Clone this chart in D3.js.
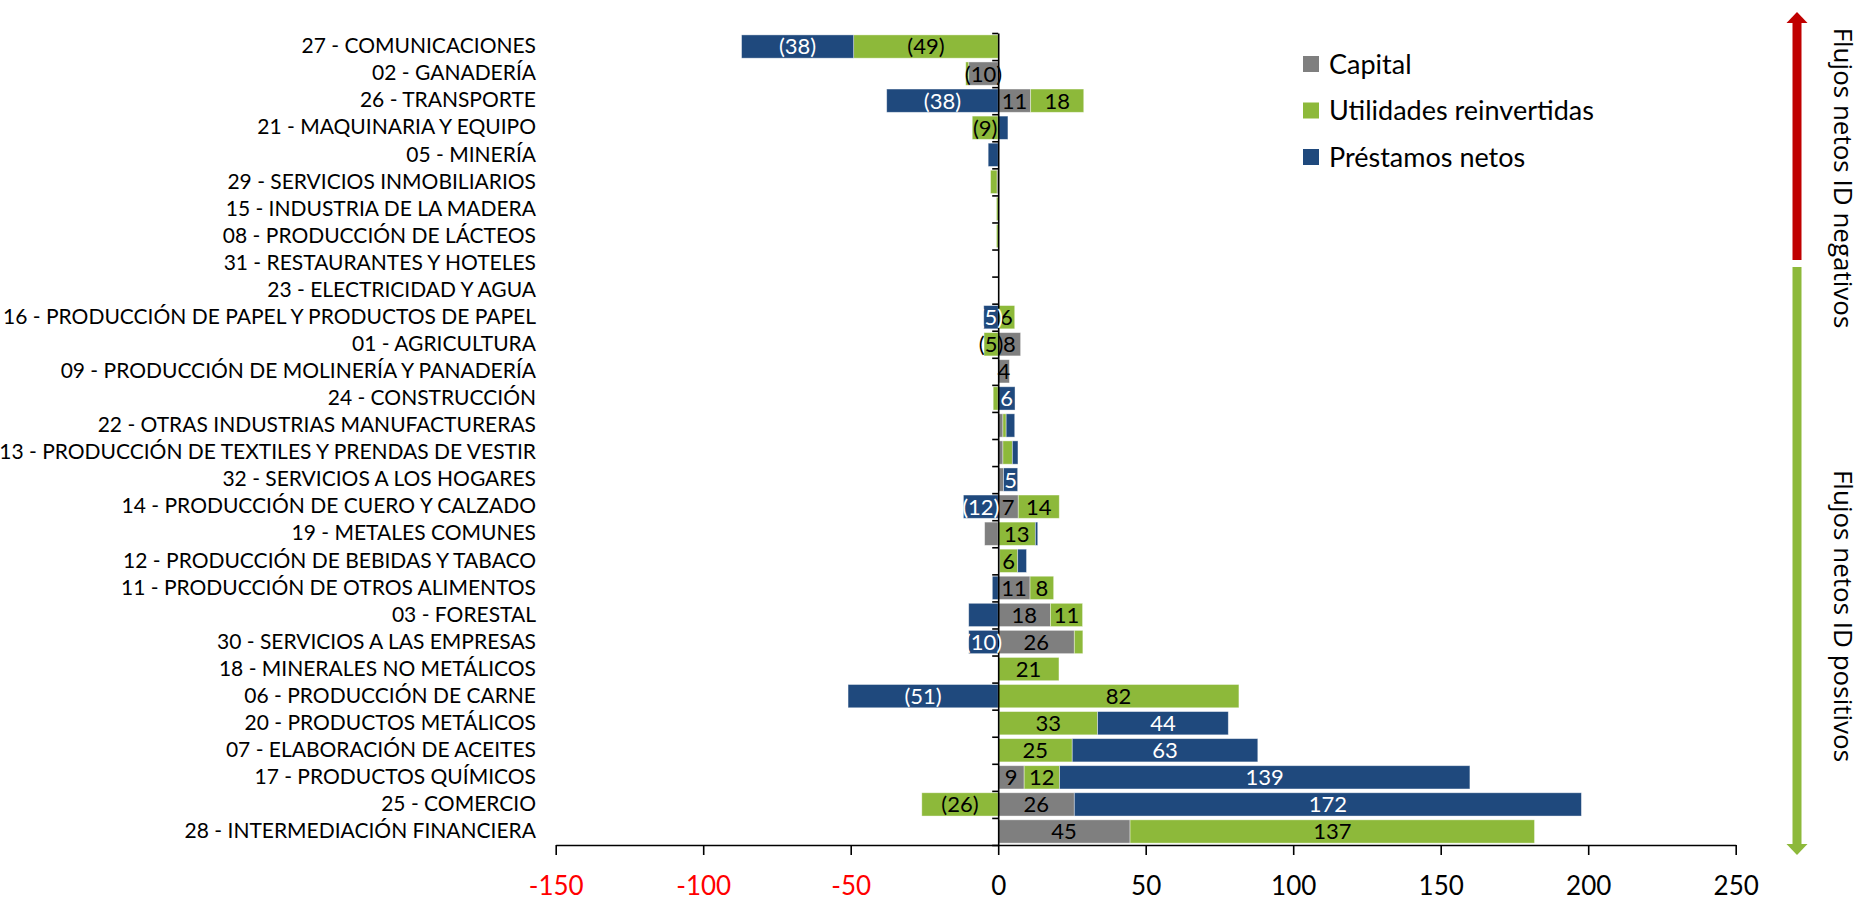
<!DOCTYPE html>
<html>
<head>
<meta charset="utf-8">
<script src="https://cdn.jsdelivr.net/npm/d3@7"></script>
<style>
  body { margin: 0; background: #fff; }
  svg text { font-family: Lato, "Liberation Sans", sans-serif; }
</style>
</head>
<body>
<svg id="chart" width="1867" height="902"></svg>
<script>
// categories, top to bottom
var categories = [
    "27 - COMUNICACIONES",
    "02 - GANADERÍA",
    "26 - TRANSPORTE",
    "21 - MAQUINARIA Y EQUIPO",
    "05 - MINERÍA",
    "29 - SERVICIOS INMOBILIARIOS",
    "15 - INDUSTRIA DE LA MADERA",
    "08 - PRODUCCIÓN DE LÁCTEOS",
    "31 - RESTAURANTES Y HOTELES",
    "23 - ELECTRICIDAD Y AGUA",
    "16 - PRODUCCIÓN DE PAPEL Y PRODUCTOS DE PAPEL",
    "01 - AGRICULTURA",
    "09 - PRODUCCIÓN DE MOLINERÍA Y PANADERÍA",
    "24 - CONSTRUCCIÓN",
    "22 - OTRAS INDUSTRIAS MANUFACTURERAS",
    "13 - PRODUCCIÓN DE TEXTILES Y PRENDAS DE VESTIR",
    "32 - SERVICIOS A LOS HOGARES",
    "14 - PRODUCCIÓN DE CUERO Y CALZADO",
    "19 - METALES COMUNES",
    "12 - PRODUCCIÓN DE BEBIDAS Y TABACO",
    "11 - PRODUCCIÓN DE OTROS ALIMENTOS",
    "03 - FORESTAL",
    "30 - SERVICIOS A LAS EMPRESAS",
    "18 - MINERALES NO METÁLICOS",
    "06 - PRODUCCIÓN DE CARNE",
    "20 - PRODUCTOS METÁLICOS",
    "07 - ELABORACIÓN DE ACEITES",
    "17 - PRODUCTOS QUÍMICOS",
    "25 - COMERCIO",
    "28 - INTERMEDIACIÓN FINANCIERA"
];

var capital    = [0, -10, 11, 0, 0, -0.4, 0, 0, 0, 0, 0, 7.6, 3.8, 0, 1.6, 1.6, 1.8, 6.8, -4.6, 0.5, 10.8, 17.7, 25.8, 0, 0, 0.3, 0, 8.8, 25.8, 44.7];
var utilidades = [-49, -1, 18, -8.8, 0, -2.2, -0.6, -0.6, 0, 0, 5.6, -4.8, 0, -1.7, 1.1, 3.2, 0, 13.9, 12.6, 6.1, 8.0, 10.9, 2.9, 20.6, 81.6, 33.4, 25.1, 12.0, -25.9, 137.1];
var prestamos  = [-38, 0, -37.8, 3.3, -3.4, 0, 0, 0, 0, 0, -4.9, 0, 0, 5.7, 2.9, 1.9, 4.8, -11.8, 0.8, 3.0, -2.0, -10.0, -10.0, 0, -50.9, 44.3, 62.9, 139.1, 171.9, 0];

var seriesKeys = ["capital", "utilidades", "prestamos"];
var seriesNames = ["Capital", "Utilidades reinvertidas", "Préstamos netos"];
var seriesColors = ["#7f7f7f", "#8db93a", "#1f497d"];
var labelColors = ["#000", "#000", "#fff"];
var xTicks = [-150, -100, -50, 0, 50, 100, 150, 200, 250];
// labels that are not shown in the original
var hiddenLabels = ["19 - METALES COMUNES|capital", "03 - FORESTAL|prestamos"];

var svg = d3.select("#chart");

var table = categories.map(function (c, i) {
    return { cat: c, capital: capital[i], utilidades: utilidades[i], prestamos: prestamos[i] };
});
var stacked = d3.stack().keys(seriesKeys).offset(d3.stackOffsetDiverging)(table);

var x = d3.scaleLinear().domain([-150, 250]).range([555.7, 1735.7]);
var y = d3.scaleBand().domain(categories).range([33, 845])
    .paddingInner(0.14).paddingOuter(0.07);

// bars
var groups = svg.append("g").selectAll("g")
    .data(stacked)
    .enter()
    .append("g")
    .attr("fill", function (d, i) { return seriesColors[i]; });

groups.selectAll("rect")
    .data(function (d) { return d; })
    .enter()
    .append("rect")
    .attr("x", function (d) { return x(Math.min(d[0], d[1])); })
    .attr("y", function (d) { return y(d.data.cat); })
    .attr("width", function (d) { return Math.abs(x(d[1]) - x(d[0])); })
    .attr("height", y.bandwidth())
    .attr("stroke", "#ffffff")
    .attr("stroke-opacity", 0.5)
    .attr("stroke-width", 0.8);

// zero axis with ticks between categories
var bounds = d3.scaleLinear().domain([0, categories.length]).range([33, 845]);
var zeroAxis = svg.append("g")
    .attr("transform", "translate(" + x(0) + ",0)")
    .call(d3.axisLeft(bounds)
        .tickValues(d3.range(0, categories.length + 1))
        .tickSize(6)
        .tickSizeOuter(0)
        .tickFormat(""));
zeroAxis.selectAll("path, line").attr("stroke", "#000").attr("stroke-width", 1.6);

// category labels (low position)
var catAxis = svg.append("g")
    .attr("transform", "translate(536,0)")
    .call(d3.axisLeft(y).tickSize(0).tickPadding(0));
catAxis.select(".domain").remove();
catAxis.selectAll("text")
    .attr("font-size", "21px")
    .attr("fill", "#000")
    .style("font-family", "Lato, sans-serif");

// x axis
var xAxis = svg.append("g")
    .attr("transform", "translate(0,845)")
    .call(d3.axisBottom(x)
        .tickValues(xTicks)
        .tickSize(10)
        .tickSizeOuter(0)
        .tickPadding(22)
        .tickFormat(function (d) { return String(d); }));
xAxis.selectAll("path, line").attr("stroke", "#000").attr("stroke-width", 1.6);
xAxis.selectAll("text")
    .attr("font-size", "26px")
    .style("font-family", "Lato, sans-serif")
    .attr("fill", function (d) { return d < 0 ? "#ff0000" : "#000"; });

// data labels
function fmt(v) {
    var r = Math.round(Math.abs(v));
    return v < 0 ? "(" + r + ")" : String(r);
}
stacked.forEach(function (s, si) {
    svg.append("g").selectAll("text")
        .data(s.filter(function (d) {
            var v = d.data[s.key];
            return Math.round(Math.abs(v)) >= 4 && hiddenLabels.indexOf(d.data.cat + "|" + s.key) < 0;
        }))
        .enter()
        .append("text")
        .attr("x", function (d) { return (x(d[0]) + x(d[1])) / 2; })
        .attr("y", function (d) { return y(d.data.cat) + y.bandwidth() / 2; })
        .attr("dy", "0.36em")
        .attr("text-anchor", "middle")
        .attr("font-size", "22px")
        .attr("fill", labelColors[si])
        .text(function (d) { return fmt(d.data[s.key]); });
});

// legend
var legend = svg.append("g").attr("transform", "translate(1303,0)");
seriesNames.forEach(function (name, i) {
    var ly = 64 + i * 46.5;
    legend.append("rect")
        .attr("x", 0).attr("y", ly - 8)
        .attr("width", 16).attr("height", 16)
        .attr("fill", seriesColors[i]);
    legend.append("text")
        .attr("x", 26).attr("y", ly)
        .attr("dy", "0.36em")
        .attr("font-size", "27px")
        .attr("fill", "#000")
        .text(name);
});

// direction arrows
var ax = 1797;
svg.append("line")
    .attr("x1", ax).attr("x2", ax).attr("y1", 23).attr("y2", 260)
    .attr("stroke", "#c00000").attr("stroke-width", 9);
svg.append("path")
    .attr("d", "M" + (ax - 10.5) + ",23L" + (ax + 10.5) + ",23L" + ax + ",12Z")
    .attr("fill", "#c00000");
svg.append("line")
    .attr("x1", ax).attr("x2", ax).attr("y1", 267).attr("y2", 844)
    .attr("stroke", "#8db93a").attr("stroke-width", 9);
svg.append("path")
    .attr("d", "M" + (ax - 10.5) + ",844L" + (ax + 10.5) + ",844L" + ax + ",855Z")
    .attr("fill", "#8db93a");

svg.append("text")
    .attr("transform", "translate(1834,178) rotate(90)")
    .attr("text-anchor", "middle")
    .attr("font-size", "26px")
    .style("font-family", "'Open Sans', sans-serif")
    .attr("fill", "#000")
    .text("Flujos netos ID negativos");
svg.append("text")
    .attr("transform", "translate(1834,616) rotate(90)")
    .attr("text-anchor", "middle")
    .attr("font-size", "26px")
    .style("font-family", "'Open Sans', sans-serif")
    .attr("fill", "#000")
    .text("Flujos netos ID positivos");
</script>
</body>
</html>
